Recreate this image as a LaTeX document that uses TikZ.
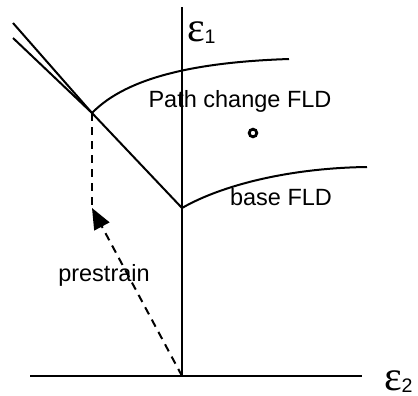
\documentclass[tikz,border=0pt]{standalone}
\usepackage{fontspec}
\setmainfont{Liberation Sans}
\newfontfamily\greekserif{Liberation Serif}
\usetikzlibrary{arrows.meta}
\begin{document}
\begin{tikzpicture}[x=0.5pt, y=-0.5pt, line width=1pt,
  lbl/.style={font=\fontsize{11.75}{14}\selectfont, anchor=base, inner sep=0pt},
  strainlbl/.style={anchor=base west, inner sep=0pt},
  dashline/.style={dash pattern=on 4pt off 3pt}]
\useasboundingbox (0,0) rectangle (418,396);
% axes
\coordinate (origin) at (182,376);
\coordinate (e1top) at (182,7);
\coordinate (e2left) at (30,376);
\coordinate (e2right) at (362,376);
\draw (e2left) -- (e2right);
\draw (origin) -- (e1top);
\node[strainlbl] (e1) at (186,41) {{\greekserif\fontsize{21}{21}\selectfont ε}\raisebox{-1pt}{\fontsize{9.8}{12}\selectfont 1}};
\node[strainlbl] (e2) at (383,390) {{\greekserif\fontsize{21}{21}\selectfont ε}\raisebox{-1pt}{\fontsize{9.8}{12}\selectfont 2}};
% strain paths
\coordinate (outerstart) at (13,23);
\coordinate (innerstart) at (13,38);
\coordinate (pcstart) at (92,113);
\coordinate (basestart) at (182,208);
\draw (outerstart) -- (pcstart);
\draw (innerstart) -- (pcstart) -- (basestart);
% forming limit curves
\coordinate (pcend) at (289,59);
\coordinate (baseend) at (367,167);
\draw (pcstart) .. controls (128,76) and (200,62) .. (pcend);
\draw (basestart) .. controls (222,185) and (290,168) .. (baseend);
\node[lbl] (pclbl) at (240,107) {Path change FLD};
\node[lbl] (baselbl) at (281,205) {base FLD};
\draw[line width=1.4pt] (253,133) circle (3.8);
% prestrain
\coordinate (pretip) at (92,208);
\draw[dashline] (pcstart) -- (pretip);
\draw[dashline, -{Triangle[length=10.5pt,width=8.5pt]}] (origin) -- (pretip);
\node[lbl] (prelbl) at (104,281) {prestrain};
\end{tikzpicture}
\end{document}
